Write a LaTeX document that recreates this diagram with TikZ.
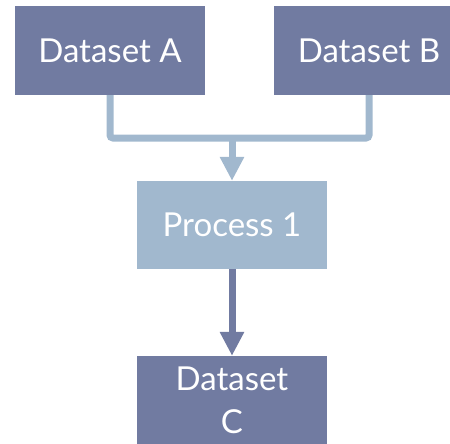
\documentclass[tikz,border=0pt]{standalone}
\usepackage{fontspec}
\setmainfont{Lato}
\usetikzlibrary{arrows.meta}
\definecolor{boxdark}{RGB}{113,123,161}
\definecolor{boxlight}{RGB}{161,184,206}
\begin{document}
\begin{tikzpicture}[x=1pt,y=-1pt,
  block/.style={minimum width=190pt,minimum height=89pt,inner sep=0pt,
    text=white,font=\fontsize{33}{43}\selectfont,align=center},
  flow/.style={line width=7pt}]
\useasboundingbox (0,0) rectangle (450,444);
\node[block,fill=boxdark] (A) at (110,50.5) {Dataset A};
\node[block,fill=boxdark] (B) at (369,50.5) {Dataset B};
\node[block,fill=boxlight,minimum height=88pt] (P) at (232,225) {Process 1};
\node[block,fill=boxdark,minimum height=88pt] (C) at (232,400) {Dataset\\C};
\coordinate (m) at (232,138);
% two sources merge into one bar, then flow into the process
\draw[flow,boxlight,rounded corners=3pt] (A.south) |- (m) -| (B.south);
\draw[flow,boxlight,-{Triangle[width=23pt,length=24pt]}] (m) -- (P.north);
\draw[flow,boxdark,-{Triangle[width=23pt,length=24pt]}] (P.south) -- (C.north);
\end{tikzpicture}
\end{document}
